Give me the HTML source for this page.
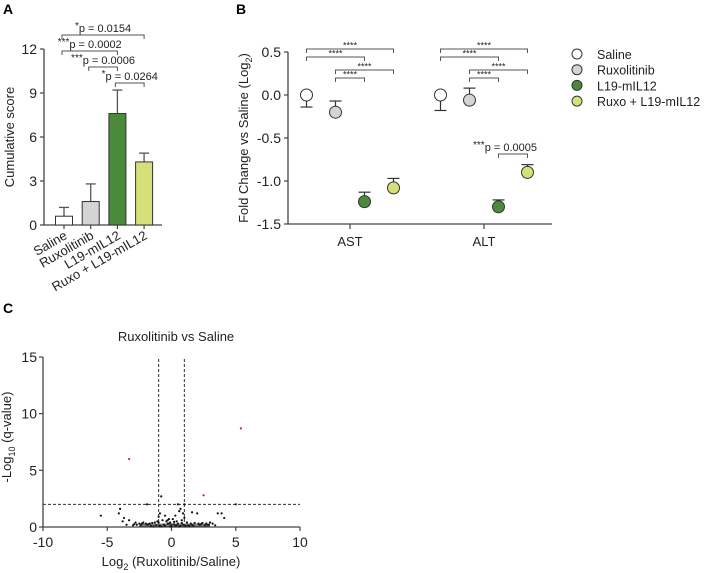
<!DOCTYPE html>
<html><head><meta charset="utf-8"><style>
body{margin:0;background:#fff}
svg{display:block;font-family:"Liberation Sans",Arial,sans-serif}
</style></head><body>
<svg id="fig" width="705" height="573" viewBox="0 0 705 573">
<text x="3" y="14" font-size="14" font-weight="bold">A</text>
<text x="236" y="14" font-size="14" font-weight="bold">B</text>
<text x="3" y="313" font-size="14" font-weight="bold">C</text>
<g id="pa"></g>
<g id="pb"></g>
<g id="pc"></g>
</svg>
<script>
// Panel A data
const aCats=["Saline","Ruxolitinib","L19-mIL12","Ruxo + L19-mIL12"];
const aVals=[0.6,1.6,7.6,4.3];
const aErr=[1.2,2.8,9.2,4.9];
const aColors=["#ffffff","#d4d4d4","#4a8a3a","#d5e07a"];
const aTicks=[0,3,6,9,12];
// Panel B data
const bGroups=["AST","ALT"];
const bSeries=["Saline","Ruxolitinib","L19-mIL12","Ruxo + L19-mIL12"];
const bAST=[0,-0.2,-1.24,-1.08];
const bALT=[0,-0.06,-1.3,-0.9];
const bASTerr=[-0.14,-0.07,-1.13,-0.97];
const bALTerr=[-0.18,0.08,-1.22,-0.81];
const bColors=["#ffffff","#d4d4d4","#4a8a3a","#d5e07a"];
const bTicks=[0.5,0,-0.5,-1,-1.5];
const bTickLabels=["0.5","0.0","-0.5","-1.0","-1.5"];
// Panel C data
const cX=[5.4,-3.3,2.5,-0.8,-1.9,0.5,1.0,-5.5,-4.0,-4.1,-3.7,-3.3,-2.8,1.6,2.0,3.6,3.9,4.1,5.0,0.7,0.9,0.6,0.3,-0.5,-0.2,-0.9,-1.0,-2.5,-2.2,-2.0,-1.7,-1.5,-1.3,-1.1,-0.7,-0.4,-0.1,0.1,0.4,0.8,1.2,1.5,1.8,2.1,2.4,2.7,3.0,3.2,-3.0,-2.7,-1.6,-1.2,-0.6,-0.3,0.0,0.2,0.5,0.9,1.3,1.7,2.2,2.6,-0.8,-0.5,-0.1,0.3,0.6,1.1,1.4,-1.4,-0.9,0.0,0.7,-3.8,-3.5,-2.4,2.9,3.4,-0.2,0.4,1.0,-1.8,-2.9,-2.3,-1.9,-1.0,-0.3,0.2,0.8,1.6,2.3,2.8];
const cY=[8.7,6.0,2.8,2.7,2.0,2.0,2.0,1.0,1.6,1.2,0.8,0.6,0.4,1.3,1.2,1.2,1.2,0.8,2.0,1.6,1.2,1.4,1.0,1.0,0.7,1.2,0.9,0.3,0.4,0.3,0.3,0.35,0.4,0.5,0.6,0.5,0.4,0.7,0.5,0.6,0.4,0.3,0.35,0.3,0.35,0.3,0.4,0.3,0.15,0.2,0.1,0.15,0.2,0.3,0.2,0.25,0.3,0.2,0.15,0.1,0.2,0.15,0.05,0.1,0.05,0.1,0.05,0.1,0.08,0.05,0.1,0.05,0.1,0.5,0.2,0.15,0.2,0.15,0.3,0.15,0.8,0.25,0.25,0.3,0.2,0.4,0.6,0.45,0.35,0.2,0.25,0.2];
const cRed=[0,1,2];
const cXTicks=[-10,-5,0,5,10];
const cYTicks=[0,5,10,15];

const NS="http://www.w3.org/2000/svg";
function mk(p,t,a,txt){const e=document.createElementNS(NS,t);for(const k in a)e.setAttribute(k,a[k]);if(txt!==undefined)e.textContent=txt;p.appendChild(e);return e;}
const ax="#444";

// ---- Panel A
(function(){
const g=document.getElementById('pa');
const x0=44,x1=162,y0=225,yTop=49;
const ys=v=>y0-(v/12)*(y0-yTop);
const xs=i=>64+i*26.7;
let e=mk(g,'line',{x1:x0,y1:y0,x2:x0,y2:yTop,stroke:ax,'stroke-width':1.3});

e=mk(g,'line',{x1:x0,y1:y0,x2:x1,y2:y0,stroke:ax,'stroke-width':1.3});

aTicks.forEach(t=>{mk(g,'line',{x1:x0-4,y1:ys(t),x2:x0,y2:ys(t),stroke:ax,'stroke-width':1.2});
 e=mk(g,'text',{x:x0-7,y:ys(t)+5,'font-size':14,'text-anchor':'end',fill:'#222'},t);
 });
e=mk(g,'text',{x:14,y:137,'font-size':13,'text-anchor':'middle',transform:'rotate(-90 14 137)',fill:'#222'},'Cumulative score');

aVals.forEach((v,i)=>{const cx=xs(i);
 mk(g,'line',{x1:cx,y1:ys(v),x2:cx,y2:ys(aErr[i]),stroke:'#555','stroke-width':1.3});
 mk(g,'line',{x1:cx-5,y1:ys(aErr[i]),x2:cx+5,y2:ys(aErr[i]),stroke:'#555','stroke-width':1.3});
 e=mk(g,'rect',{x:cx-8.5,y:ys(v),width:17,height:y0-ys(v),fill:aColors[i],stroke:'#333','stroke-width':1});
 
 mk(g,'line',{x1:cx,y1:y0,x2:cx,y2:y0+4,stroke:ax,'stroke-width':1.2});
 e=mk(g,'text',{x:cx+4,y:238,'font-size':13,'text-anchor':'end',transform:`rotate(-30 ${cx+4} 238)`,fill:'#222'},aCats[i]);
 
});
const br=[[0,3,35,'*','p = 0.0154'],[0,2,51,'***','p = 0.0002'],[1,2,67,'***','p = 0.0006'],[2,3,83,'*','p = 0.0264']];
br.forEach(b=>{const xa=xs(b[0])-2,xb=xs(b[1]);
 e=mk(g,'path',{d:`M${xa} ${b[2]+4}V${b[2]}H${xb}V${b[2]+4}`,fill:'none',stroke:'#555','stroke-width':1});
 
 const mid=(xa+xb)/2;
 e=mk(g,'text',{x:mid,y:b[2]-3,'font-size':11,'text-anchor':'middle',fill:'#222'});
 
 mk(e,'tspan',{'font-size':10,dy:-3},b[3]);mk(e,'tspan',{dy:3},b[4]);
});
})();

// ---- Panel B
(function(){
const g=document.getElementById('pb');
const x0=288,x1=552,y0=224,yTop=52;
const ys=v=>yTop+(0.5-v)*(y0-yTop)/2;
const centers=[350,484];
const xs=(gi,si)=>centers[gi]+(si-1.5)*29;
let e=mk(g,'line',{x1:x0,y1:y0,x2:x0,y2:yTop,stroke:ax,'stroke-width':1.3});

e=mk(g,'line',{x1:x0,y1:y0,x2:x1,y2:y0,stroke:ax,'stroke-width':1.3});

bTicks.forEach((t,i)=>{mk(g,'line',{x1:x0-4,y1:ys(t),x2:x0,y2:ys(t),stroke:ax,'stroke-width':1.2});
 e=mk(g,'text',{x:x0-7,y:ys(t)+5,'font-size':14,'text-anchor':'end',fill:'#222'},bTickLabels[i]);
 });
e=mk(g,'text',{x:248,y:138,'font-size':13,'text-anchor':'middle',transform:'rotate(-90 248 138)',fill:'#222'});

mk(e,'tspan',{},'Fold Change vs Saline (Log');mk(e,'tspan',{'font-size':9,dy:4},'2');mk(e,'tspan',{dy:-4},')');
bGroups.forEach((gn,gi)=>{
 mk(g,'line',{x1:centers[gi],y1:y0,x2:centers[gi],y2:y0+5,stroke:ax,'stroke-width':1.2});
 e=mk(g,'text',{x:centers[gi],y:246,'font-size':13,'text-anchor':'middle',fill:'#222'},gn);
 
 const vals=gi?bALT:bAST, errs=gi?bALTerr:bASTerr;
 vals.forEach((v,si)=>{const cx=xs(gi,si);
  mk(g,'line',{x1:cx,y1:ys(v),x2:cx,y2:ys(errs[si]),stroke:'#333','stroke-width':1.2});
  mk(g,'line',{x1:cx-6,y1:ys(errs[si]),x2:cx+6,y2:ys(errs[si]),stroke:'#333','stroke-width':1.2});
  e=mk(g,'circle',{cx:cx,cy:ys(v),r:6,fill:bColors[si],stroke:'#333','stroke-width':1});
  
 });
 [[0,3,49],[0,2,57],[1,3,70],[1,2,78]].forEach(b=>{const xa=xs(gi,b[0]),xb=xs(gi,b[1]);
  e=mk(g,'path',{d:`M${xa} ${b[2]+4}V${b[2]}H${xb}V${b[2]+4}`,fill:'none',stroke:'#555','stroke-width':1});
  
  e=mk(g,'text',{x:(xa+xb)/2,y:b[2]-0.5,'font-size':9,'text-anchor':'middle',fill:'#222'},'****');
  
 });
});
const xa=xs(1,2),xb=xs(1,3);
e=mk(g,'path',{d:`M${xa} 158V154H${xb}V158`,fill:'none',stroke:'#555','stroke-width':1});

e=mk(g,'text',{x:(xa+xb)/2-8,y:151,'font-size':11,'text-anchor':'middle',fill:'#222'});

mk(e,'tspan',{'font-size':10,dy:-3},'***');mk(e,'tspan',{dy:3},'p = 0.0005');
bSeries.forEach((s,i)=>{const y=54+i*15.7;
 e=mk(g,'circle',{cx:577,cy:y,r:5,fill:bColors[i],stroke:'#333','stroke-width':1});
 
 e=mk(g,'text',{x:597,y:y+5,'font-size':12.5,fill:'#222'},s);
 
});
})();

// ---- Panel C
(function(){
const g=document.getElementById('pc');
const x0=43,x1=300,y0=527,yTop=357;
const xs=v=>x0+(v+10)/20*(x1-x0);
const ys=v=>y0-v/15*(y0-yTop);
let e=mk(g,'line',{x1:x0,y1:y0,x2:x0,y2:yTop,stroke:ax,'stroke-width':1.3});

e=mk(g,'line',{x1:x0,y1:y0,x2:x1,y2:y0,stroke:ax,'stroke-width':1.3});

cYTicks.forEach(t=>{mk(g,'line',{x1:x0-4,y1:ys(t),x2:x0,y2:ys(t),stroke:ax,'stroke-width':1.2});
 e=mk(g,'text',{x:x0-6,y:ys(t)+5,'font-size':14,'text-anchor':'end',fill:'#222'},t);
 });
cXTicks.forEach(t=>{mk(g,'line',{x1:xs(t),y1:y0,x2:xs(t),y2:y0+4,stroke:ax,'stroke-width':1.2});
 e=mk(g,'text',{x:xs(t),y:y0+20,'font-size':14,'text-anchor':'middle',fill:'#222'},t);
 });
e=mk(g,'text',{x:176,y:341,'font-size':13,'text-anchor':'middle',fill:'#222'},'Ruxolitinib vs Saline');

e=mk(g,'text',{x:171,y:566,'font-size':13,'text-anchor':'middle',fill:'#222'});

mk(e,'tspan',{},'Log');mk(e,'tspan',{'font-size':9,dy:4},'2');mk(e,'tspan',{dy:-4},' (Ruxolitinib/Saline)');
e=mk(g,'text',{x:11,y:437,'font-size':13,'text-anchor':'middle',transform:'rotate(-90 11 437)',fill:'#222'});

mk(e,'tspan',{},'-Log');mk(e,'tspan',{'font-size':9,dy:4},'10');mk(e,'tspan',{dy:-4},' (q-value)');
[-1,1].forEach(v=>{e=mk(g,'line',{x1:xs(v),y1:y0,x2:xs(v),y2:yTop,stroke:'#333','stroke-width':1,'stroke-dasharray':'3,2'});
 });
e=mk(g,'line',{x1:x0,y1:ys(2),x2:x1,y2:ys(2),stroke:'#333','stroke-width':1,'stroke-dasharray':'3,2'});

cX.forEach((x,i)=>{const red=cRed.includes(i);
 e=mk(g,'circle',{cx:xs(x),cy:ys(cY[i]),r:1.1,fill:red?'#d22':'#111'});
 });
e=mk(g,'rect',{x:xs(-2.5),y:ys(0.3),width:xs(3)-xs(-2.5),height:ys(0)-ys(0.3),fill:'#222',opacity:0.6});

})();
</script>
</body></html>
